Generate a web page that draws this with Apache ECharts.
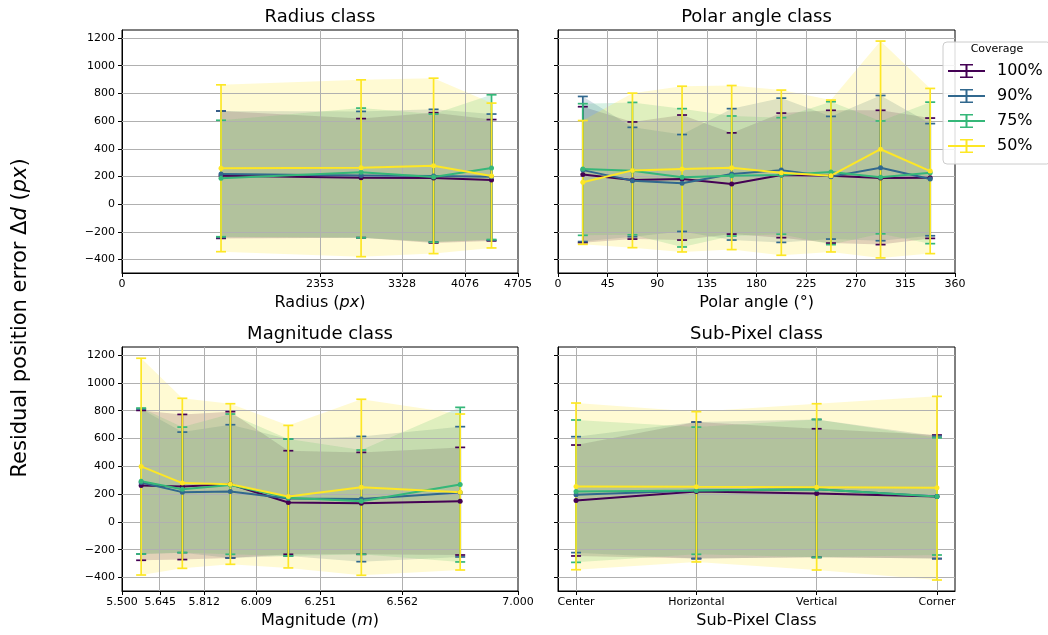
<!DOCTYPE html>
<html><head><meta charset="utf-8">
<script src="https://cdn.jsdelivr.net/npm/echarts@6/dist/echarts.min.js"></script>
<style>html,body{margin:0;padding:0;background:#fff}#c{width:1048px;height:635px}</style>
</head><body><div id="c"></div>
<script>
// ---------- data ----------
const coverages = ['100%', '90%', '75%', '50%'];
const yTicks = [-400, -200, 0, 200, 400, 600, 800, 1000, 1200];

// Radius class
const radiusX = [1176.5, 2840.5, 3702, 4390.5];
const radiusTicks = [0, 2353, 3328, 4076, 4705];
const radiusMean = [[206, 191, 189, 175], [218, 208, 203, 199], [187, 230, 196, 261], [259, 263, 277, 203]];
const radiusHi = [[673, 618, 661, 611], [673, 670, 685, 651], [606, 694, 651, 790], [862, 898, 910, 730]];
const radiusLo = [[-247, -242, -280, -265], [-240, -242, -272, -260], [-235, -242, -275, -255], [-343, -379, -357, -316]];

// Polar angle class
const polarX = [22.5, 67.5, 112.5, 157.5, 202.5, 247.5, 292.5, 337.5];
const polarMean = [[215, 175, 182, 146, 211, 206, 190, 191], [246, 170, 151, 218, 246, 199, 263, 182], [254, 242, 194, 206, 211, 232, 194, 227], [158, 244, 254, 263, 227, 206, 397, 239]];
const polarHi = [[704, 594, 644, 515, 658, 678, 678, 622], [778, 555, 503, 690, 766, 634, 785, 582], [726, 735, 690, 637, 625, 740, 601, 737], [604, 802, 852, 857, 824, 752, 1178, 836]];
const polarLo = [[-278, -252, -259, -216, -242, -281, -292, -247], [-270, -235, -197, -259, -276, -252, -264, -228], [-225, -221, -309, -230, -217, -292, -214, -285], [-290, -314, -345, -328, -369, -345, -388, -357]];

// Magnitude class
const magX = [5.5725, 5.7285, 5.9105, 6.13, 6.4065, 6.781];
const magTicks = [5.5, 5.645, 5.812, 6.009, 6.251, 6.562, 7.0];
const magMean = [[262, 255, 271, 139, 135, 149], [283, 214, 219, 168, 164, 211], [293, 235, 266, 173, 149, 269], [399, 279, 271, 183, 250, 214]];
const magHi = [[802, 773, 793, 512, 500, 536], [812, 646, 699, 596, 615, 685], [819, 682, 776, 596, 517, 824], [1177, 889, 850, 694, 882, 776]];
const magLo = [[-276, -271, -259, -233, -233, -238], [-231, -221, -259, -245, -286, -252], [-231, -221, -233, -245, -233, -288], [-382, -334, -305, -331, -384, -346]];

// Sub-Pixel class
const subCats = ['Center', 'Horizontal', 'Vertical', 'Corner'];
const subX = [0, 1, 2, 3];
const subMean = [[154, 219, 204, 183], [195, 226, 235, 183], [219, 226, 235, 183], [255, 252, 250, 245]];
const subHi = [[553, 718, 670, 625], [613, 718, 737, 618], [733, 682, 737, 605], [855, 793, 850, 903]];
const subLo = [[-245, -264, -255, -264], [-221, -264, -255, -264], [-291, -233, -255, -238], [-344, -288, -346, -418]];

// ---------- styles ----------
const FONT = 'DejaVu Sans';
const colors = ['#440154', '#31688e', '#35b779', '#fde725'];
const fills = ['rgba(68,1,84,0.2)', 'rgba(49,104,142,0.2)', 'rgba(53,183,121,0.2)', 'rgba(253,231,37,0.2)'];
const minus = v => (v < 0 ? '\u2212' + Math.abs(v) : String(v));

const grids = [
  { left: 122, top: 30, width: 396, height: 243 },
  { left: 558, top: 30, width: 397, height: 243 },
  { left: 122, top: 347, width: 396, height: 244 },
  { left: 558, top: 347, width: 397, height: 244 }
].map(g => Object.assign({ show: true, borderColor: '#000', borderWidth: 1, backgroundColor: 'transparent' }, g));

const nameStyle = {
  fontSize: 16, fontFamily: FONT, color: '#000',
  rich: { n: { fontSize: 16, fontFamily: FONT, color: '#000' }, i: { fontSize: 16, fontFamily: FONT, color: '#000', fontStyle: 'italic' } }
};
function xAxisBase(idx, extra) {
  return Object.assign({
    gridIndex: idx, type: 'value',
    nameLocation: 'middle', nameGap: 22, nameTextStyle: nameStyle,
    axisLine: { show: true, onZero: false, lineStyle: { color: '#000', width: 1 } },
    axisTick: { show: true, inside: false, length: 4, lineStyle: { color: '#000', width: 1 } },
    axisLabel: { color: '#000', fontSize: 11, fontFamily: FONT, margin: 6, formatter: v => String(v) },
    splitLine: { show: false }
  }, extra);
}
const xAxes = [
  xAxisBase(0, { min: 0, max: 4705, name: '{n|Radius (}{i|px}{n|)}',
    axisTick: { show: true, length: 4, customValues: radiusTicks, lineStyle: { color: '#000' } },
    axisLabel: { color: '#000', fontSize: 11, fontFamily: FONT, margin: 6, customValues: radiusTicks, formatter: v => String(Math.round(v)) } }),
  xAxisBase(1, { min: 0, max: 360, interval: 45, name: '{n|Polar angle (°)}' }),
  xAxisBase(2, { min: 5.5, max: 7.0, name: '{n|Magnitude (}{i|m}{n|)}',
    axisTick: { show: true, length: 4, customValues: magTicks, lineStyle: { color: '#000' } },
    axisLabel: { color: '#000', fontSize: 11, fontFamily: FONT, margin: 6, customValues: magTicks, formatter: v => Number(v).toFixed(3) } }),
  xAxisBase(3, { min: -0.15, max: 3.15, name: '{n|Sub-Pixel Class}',
    axisTick: { show: true, length: 4, customValues: subX, lineStyle: { color: '#000' } },
    axisLabel: { color: '#000', fontSize: 11, fontFamily: FONT, margin: 6, customValues: subX, formatter: v => subCats[Math.round(v)] } })
];
const yAxes = [0, 1, 2, 3].map(i => ({
  gridIndex: i, type: 'value', min: -497, max: 1258,
  axisLine: { show: true, onZero: false, lineStyle: { color: '#000', width: 1 } },
  axisTick: { show: true, length: 4, customValues: yTicks, lineStyle: { color: '#000', width: 1 } },
  axisLabel: { show: i % 2 === 0, customValues: yTicks, color: '#000', fontSize: 11, fontFamily: FONT, margin: 7, formatter: minus },
  splitLine: { show: false }
}));

const gridXLines = [[2353, 3328, 4076], [45, 90, 135, 180, 225, 270, 315], [5.645, 5.812, 6.009, 6.251, 6.562], [0, 1, 2, 3]];
const panels = [
  { xs: radiusX, mean: radiusMean, hi: radiusHi, lo: radiusLo },
  { xs: polarX, mean: polarMean, hi: polarHi, lo: polarLo },
  { xs: magX, mean: magMean, hi: magHi, lo: magLo },
  { xs: subX, mean: subMean, hi: subHi, lo: subLo }
];

const series = [];
panels.forEach((p, g) => {
  // bands
  for (let k = 0; k < 4; k++) {
    const xs = p.xs, lo = p.lo[k], hi = p.hi[k];
    series.push({
      type: 'custom', xAxisIndex: g, yAxisIndex: g, z: 1, silent: true, animation: false,
      data: xs.map((x, i) => [x, lo[i], hi[i]]),
      renderItem: function (params, api) {
        if (params.dataIndex !== 0) return null;
        const pts = [];
        for (let i = 0; i < xs.length; i++) pts.push(api.coord([xs[i], hi[i]]));
        for (let i = xs.length - 1; i >= 0; i--) pts.push(api.coord([xs[i], lo[i]]));
        return { type: 'polygon', shape: { points: pts }, style: { fill: fills[k], stroke: null } };
      }
    });
  }
  // grid lines
  series.push({
    type: 'line', xAxisIndex: g, yAxisIndex: g, z: 1.5, data: [], silent: true, animation: false,
    markLine: {
      z: 1.5, silent: true, animation: false, symbol: ['none', 'none'], label: { show: false },
      lineStyle: { color: '#b0b0b0', width: 1, type: 'solid', opacity: 1 },
      emphasis: { disabled: true },
      data: gridXLines[g].map(v => ({ xAxis: v })).concat(yTicks.map(v => ({ yAxis: v })))
    }
  });
  // error bars
  for (let k = 0; k < 4; k++) {
    series.push({
      type: 'custom', xAxisIndex: g, yAxisIndex: g, z: 1.9, silent: true, animation: false,
      data: p.xs.map((x, i) => [x, p.lo[k][i], p.hi[k][i]]),
      renderItem: function (params, api) {
        const x = api.value(0);
        const a = api.coord([x, api.value(1)]);
        const b = api.coord([x, api.value(2)]);
        const w = 5;
        const st = { stroke: colors[k], lineWidth: 1.7 };
        return { type: 'group', children: [
          { type: 'line', shape: { x1: a[0], y1: a[1], x2: b[0], y2: b[1] }, style: st },
          { type: 'line', shape: { x1: b[0] - w, y1: b[1], x2: b[0] + w, y2: b[1] }, style: st },
          { type: 'line', shape: { x1: a[0] - w, y1: a[1], x2: a[0] + w, y2: a[1] }, style: st }
        ] };
      }
    });
  }
  // mean lines
  for (let k = 0; k < 4; k++) {
    series.push({
      type: 'line', name: coverages[k], xAxisIndex: g, yAxisIndex: g, z: 2, animation: false,
      data: p.xs.map((x, i) => [x, p.mean[k][i]]),
      symbol: 'circle', symbolSize: 5, showSymbol: true,
      lineStyle: { color: colors[k], width: 2 },
      itemStyle: { color: colors[k] },
      emphasis: { disabled: true }
    });
  }
});

const ebIcon = 'path://M0,6H37V8H0Z M17.5,0H19.5V14H17.5Z M12,0H25V1.6H12Z M12,12.4H25V14H12Z';

const titleText = (t, x, y) => ({
  type: 'text', x: x, y: y, z: 100,
  style: { text: t, fontSize: 18, fontFamily: FONT, fill: '#000', align: 'center', verticalAlign: 'middle', textAlign: 'center', textVerticalAlign: 'middle' }
});

const option = {
  animation: false,
  textStyle: { fontFamily: FONT },
  grid: grids,
  xAxis: xAxes,
  yAxis: yAxes,
  series: series,
  legend: {
    data: coverages.map(n => ({ name: n, icon: ebIcon })),
    orient: 'vertical', left: 943, top: 42,
    padding: [21, 8, 10, 5], itemGap: 9, itemWidth: 37, itemHeight: 14,
    backgroundColor: 'rgba(255,255,255,0.85)', borderColor: '#cccccc', borderWidth: 1, borderRadius: 4,
    textStyle: { fontSize: 16, fontFamily: FONT, color: '#000', lineHeight: 16, padding: [0, 0, 0, 7] },
    selectedMode: false, z: 20
  },
  graphic: [
    titleText('Radius class', 320, 17),
    titleText('Polar angle class', 756.5, 17),
    titleText('Magnitude class', 320, 334),
    titleText('Sub-Pixel class', 756.5, 334),
    { type: 'text', x: 997, y: 49, z: 200,
      style: { text: 'Coverage', fontSize: 11, fontFamily: FONT, fill: '#000', align: 'center', verticalAlign: 'middle', textAlign: 'center', textVerticalAlign: 'middle' } },
    { type: 'text', x: 21, y: 318, rotation: Math.PI / 2, z: 100,
      style: {
        text: '{n|Residual position error Δ}{i|d}{n| (}{i|px}{n|)}',
        align: 'center', verticalAlign: 'middle', textAlign: 'center', textVerticalAlign: 'middle',
        rich: { n: { fontSize: 21, fontFamily: FONT, fill: '#000', color: '#000' }, i: { fontSize: 21, fontFamily: FONT, fontStyle: 'italic', fill: '#000', color: '#000' } }
      } }
  ]
};
const chart = echarts.init(document.getElementById('c'), null, { renderer: 'canvas' });
chart.setOption(option);
</script></body></html>
